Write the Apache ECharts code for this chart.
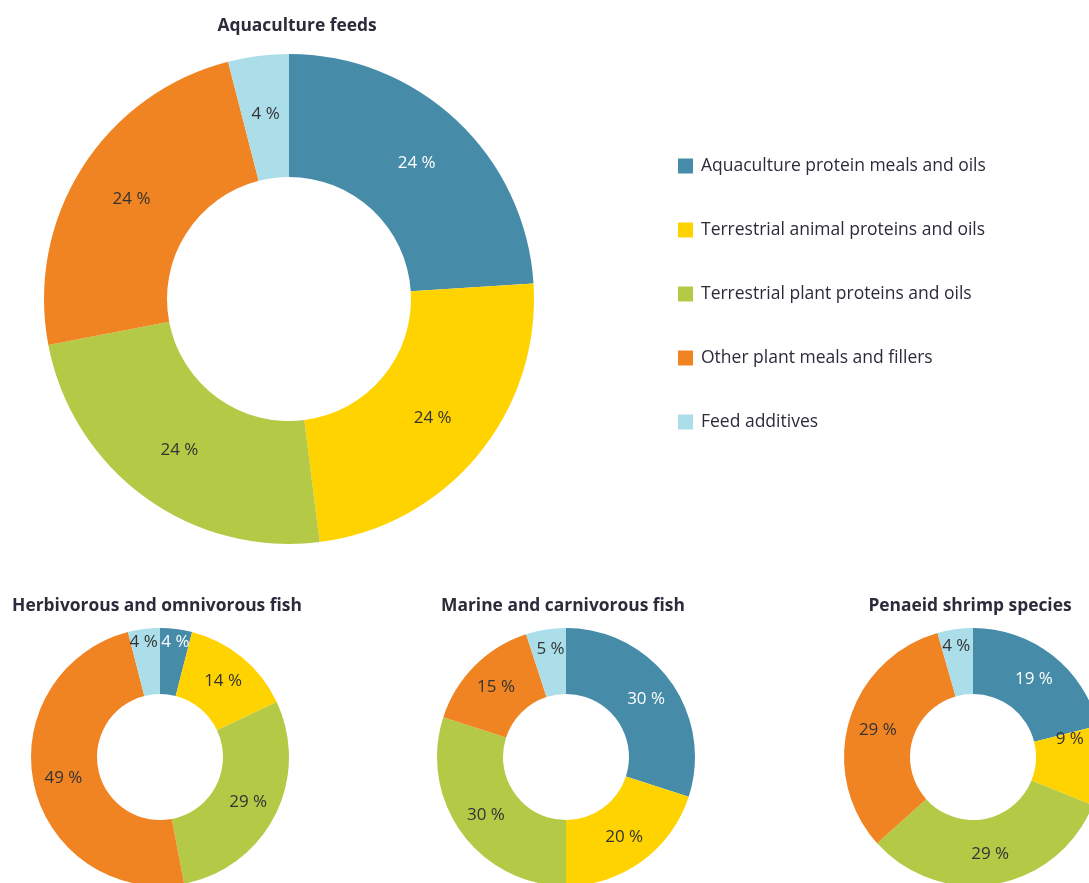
<!DOCTYPE html>
<html>
<head>
<meta charset="utf-8">
<script src="https://cdn.jsdelivr.net/npm/echarts@6/dist/echarts.min.js"></script>
<style>
  html, body { margin: 0; padding: 0; background: #ffffff; }
  #chart { width: 1089px; height: 883px; }
</style>
</head>
<body>
<div id="chart"></div>
<script>
// Feed ingredient categories (legend order)
const categories = [
  'Aquaculture protein meals and oils',
  'Terrestrial animal proteins and oils',
  'Terrestrial plant proteins and oils',
  'Other plant meals and fillers',
  'Feed additives'
];
const colors = ['#468ca8', '#ffd300', '#b4c946', '#f08423', '#abdee9'];
const labelColors = ['#ffffff', '#333333', '#333333', '#333333', '#333333'];

// Shares in percent, per feed type
const aquacultureFeeds = [24, 24, 24, 24, 4];
const herbivorousFish = [4, 14, 29, 49, 4];
const marineFish = [30, 20, 30, 15, 5];
const penaeidShrimp = [19, 9, 29, 29, 4];

const titles = [
  'Aquaculture feeds',
  'Herbivorous and omnivorous fish',
  'Marine and carnivorous fish',
  'Penaeid shrimp species'
];

const FONT = '"Open Sans", "Noto Sans", sans-serif';

// Narrow slices get their labels nudged toward the rim so they stay readable
const labelNudges = {
  herb: { 0: [3, -17], 4: [-4, -17] },
  marine: { 4: [0, -10] },
  shrimp: { 1: [-2, -25], 4: [-3, -13] }
};

function toData(values, nudges) {
  return values.map((v, i) => {
    const label = { color: labelColors[i] };
    if (nudges && nudges[i]) label.offset = nudges[i];
    return {
      name: categories[i],
      value: v,
      itemStyle: { color: colors[i] },
      label: label
    };
  });
}

function donut(name, values, center, radius, nudges) {
  return {
    name: name,
    type: 'pie',
    center: center,
    radius: radius,
    startAngle: 90,
    clockwise: true,
    avoidLabelOverlap: false,
    silent: true,
    label: {
      show: true,
      position: 'inside',
      formatter: '{c} %',
      fontFamily: FONT,
      fontSize: 17
    },
    labelLine: { show: false },
    labelLayout: { hideOverlap: false },
    itemStyle: { borderWidth: 0 },
    emphasis: { disabled: true },
    data: toData(values, nudges)
  };
}

const chart = echarts.init(document.getElementById('chart'), null, { renderer: 'canvas' });

const titleStyle = { fontFamily: FONT, fontSize: 17.4, fontWeight: 'bold', color: '#2b2b3b' };

chart.setOption({
  animation: false,
  backgroundColor: '#ffffff',
  title: [
    { text: titles[0], left: 292, top: 13, textAlign: 'center', textStyle: titleStyle },
    { text: titles[1], left: 152, top: 593, textAlign: 'center', textStyle: titleStyle },
    { text: titles[2], left: 558, top: 593, textAlign: 'center', textStyle: titleStyle },
    { text: titles[3], left: 965, top: 593, textAlign: 'center', textStyle: titleStyle }
  ],
  legend: {
    orient: 'vertical',
    left: 673,
    top: 152,
    itemWidth: 15,
    itemHeight: 15,
    itemGap: 46,
    icon: 'rect',
    selectedMode: false,
    data: categories,
    textStyle: { fontFamily: FONT, fontSize: 17.5, color: '#2b2b3b', padding: [0, 0, 0, 3] }
  },
  series: [
    donut(titles[0], aquacultureFeeds, [289, 299], [122, 245]),
    donut(titles[1], herbivorousFish, [160, 757], [63, 129], labelNudges.herb),
    donut(titles[2], marineFish, [566, 757], [63, 129], labelNudges.marine),
    donut(titles[3], penaeidShrimp, [973, 757], [63, 129], labelNudges.shrimp)
  ]
});
</script>
</body>
</html>
